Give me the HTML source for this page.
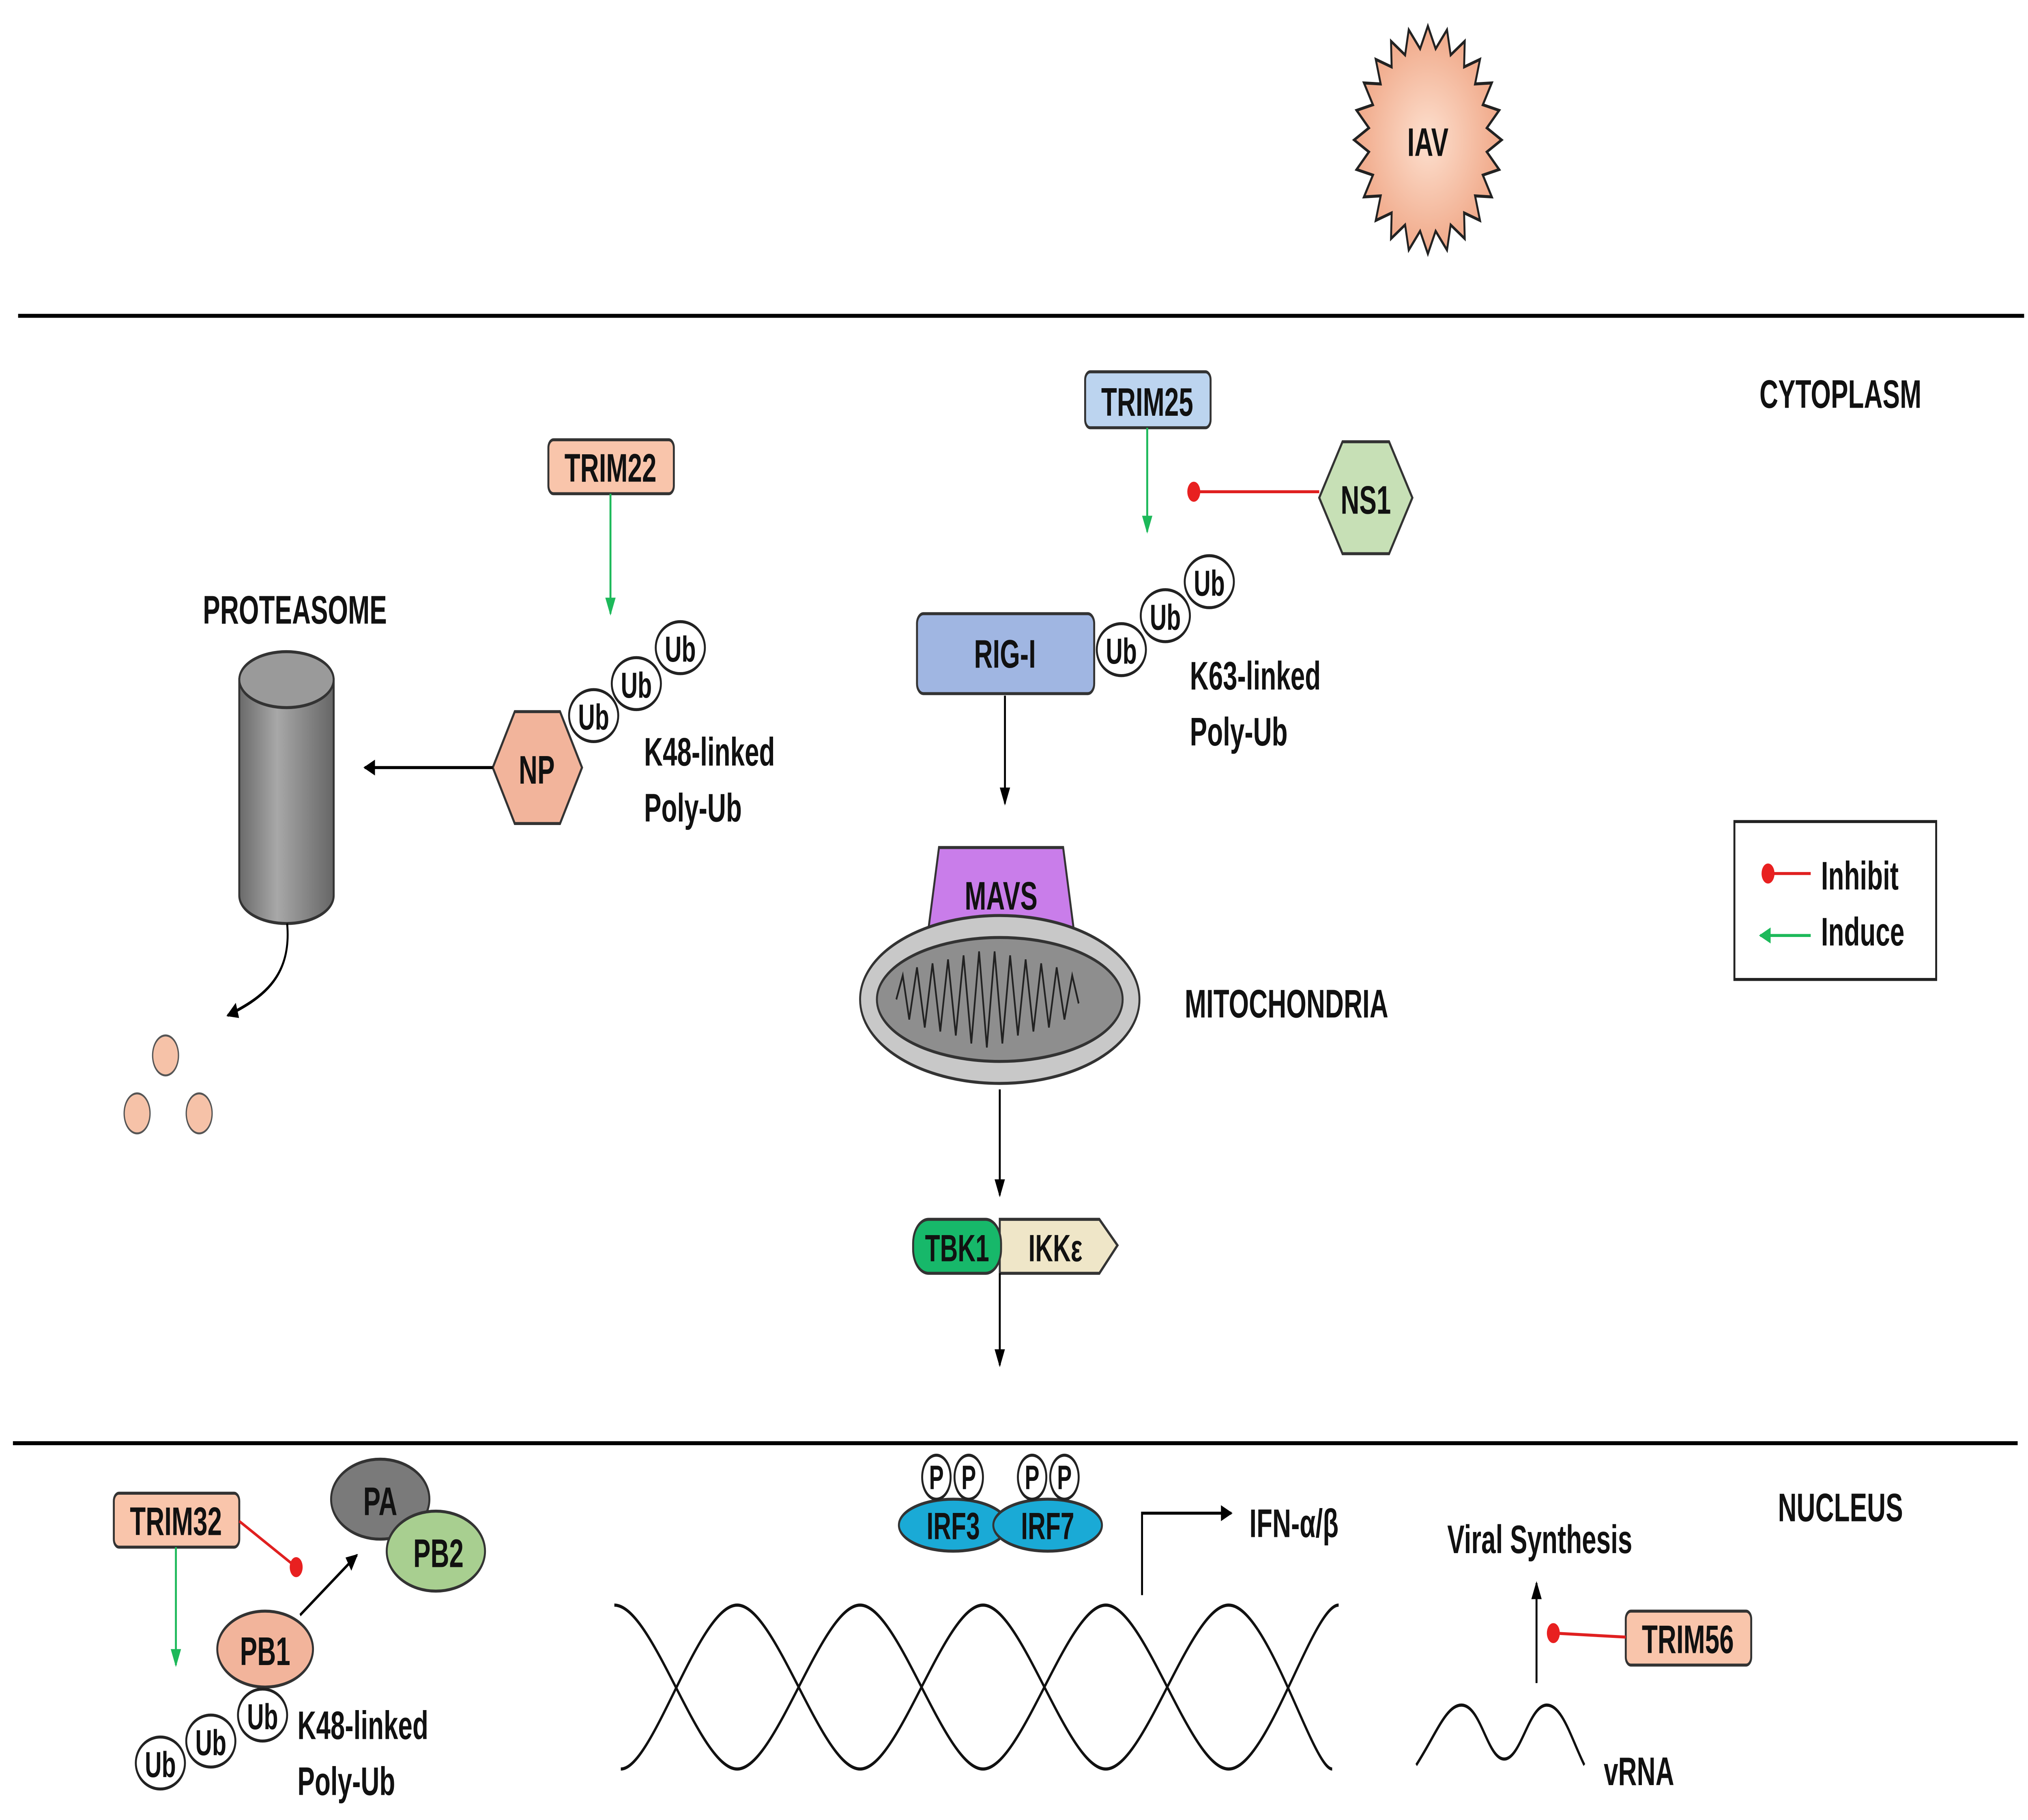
<!DOCTYPE html>
<html><head><meta charset="utf-8"><style>
html,body{margin:0;padding:0;background:#fff;width:7727px;height:4487px;overflow:hidden}
svg{display:block;width:100vw;height:100vh}
text{font-family:"Liberation Sans",Arial,sans-serif;font-weight:bold;fill:#111}
</style></head><body>
<svg viewBox="0 0 1568 910.5" preserveAspectRatio="none" xmlns="http://www.w3.org/2000/svg">
<defs>
<marker id="ab" markerWidth="10" markerHeight="10" refX="8" refY="5" orient="auto" markerUnits="userSpaceOnUse"><path d="M0,1 L9,5 L0,9 z" fill="#000"/></marker>
<marker id="ag" markerWidth="10" markerHeight="10" refX="8" refY="5" orient="auto" markerUnits="userSpaceOnUse"><path d="M0,1 L9,5 L0,9 z" fill="#1db95a"/></marker>
<radialGradient id="iav" cx="50%" cy="50%" r="50%"><stop offset="0" stop-color="#fde0cf"/><stop offset="1" stop-color="#f0a888"/></radialGradient>
<linearGradient id="cyl" x1="0" x2="1"><stop offset="0" stop-color="#6a6a6a"/><stop offset="0.4" stop-color="#a8a8a8"/><stop offset="1" stop-color="#666"/></linearGradient>
</defs>
<rect width="1568" height="910.5" fill="#fff"/>
<!-- IAV -->
<circle cx="1104" cy="70" r="47" fill="url(#iav)"/>
<polygon id="star" fill="url(#iav)" stroke="#222" stroke-width="1.5" points=""/>
<script>
(function(){var p=[],n=24,cx=1104,cy=70;for(var i=0;i<2*n;i++){var r=i%2?46:57;var a=Math.PI*i/n;p.push((cx+r*Math.cos(a)).toFixed(1)+","+(cy+r*Math.sin(a)).toFixed(1));}document.getElementById("star").setAttribute("points",p.join(" "));})();
</script>
<text x="1104" y="78" font-size="20" text-anchor="middle">IAV</text>
<!-- membranes -->
<line x1="14" y1="158" x2="1565" y2="158" stroke="#000" stroke-width="2"/>
<line x1="10" y1="722" x2="1560" y2="722" stroke="#000" stroke-width="2"/>
<text x="1423" y="204" font-size="20" text-anchor="middle">CYTOPLASM</text>
<text x="1423" y="761" font-size="20" text-anchor="middle">NUCLEUS</text>
<!-- TRIM25 -->
<rect x="839" y="186" width="97" height="28" rx="4" fill="#bcd4ef" stroke="#333" stroke-width="1.5"/>
<text x="887" y="208" font-size="20" text-anchor="middle">TRIM25</text>
<line x1="887" y1="214" x2="887" y2="266" stroke="#1db95a" stroke-width="1.5" marker-end="url(#ag)"/>
<polygon points="1038,221 1074,221 1092,249 1074,277 1038,277 1020,249" fill="#c7e0b6" stroke="#333" stroke-width="1.5"/>
<text x="1056" y="257" font-size="20" text-anchor="middle">NS1</text>
<line x1="1020" y1="246" x2="923" y2="246" stroke="#e02020" stroke-width="1.5"/>
<circle cx="923" cy="246" r="5" fill="#e82020"/>
<g fill="#fff" stroke="#222" stroke-width="1.5">
<ellipse cx="935" cy="291" rx="19" ry="13"/><ellipse cx="901" cy="308" rx="19" ry="13"/><ellipse cx="867" cy="325" rx="19" ry="13"/></g>
<g font-size="18" text-anchor="middle"><text x="935" y="298">Ub</text><text x="901" y="315">Ub</text><text x="867" y="332">Ub</text></g>
<rect x="709" y="307" width="137" height="40" rx="5" fill="#a0b6e2" stroke="#333" stroke-width="1.5"/>
<text x="777" y="334" font-size="20" text-anchor="middle">RIG-I</text>
<text x="920" y="345" font-size="20">K63-linked</text>
<text x="920" y="373" font-size="20">Poly-Ub</text>
<line x1="777" y1="348" x2="777" y2="402" stroke="#000" stroke-width="1.5" marker-end="url(#ab)"/>
<!-- MAVS / mito -->
<polygon points="726,424 822,424 830,464 718,464" fill="#c97dea" stroke="#333" stroke-width="1.5"/>
<text x="774" y="455" font-size="20" text-anchor="middle">MAVS</text>
<ellipse cx="773" cy="500" rx="108" ry="42" fill="#c8c8c8" stroke="#333" stroke-width="1.5"/>
<ellipse cx="773" cy="500" rx="95" ry="31" fill="#8e8e8e" stroke="#333" stroke-width="1.5"/>
<path d="M693,500 l5,-12 l5,22 l6,-26 l6,30 l6,-32 l6,34 l6,-36 l6,38 l6,-40 l6,44 l6,-46 l6,48 l6,-48 l6,46 l6,-44 l6,40 l6,-38 l6,36 l6,-34 l6,32 l6,-30 l6,26 l6,-22 l5,14" fill="none" stroke="#222" stroke-width="1.3"/>
<text x="916" y="509" font-size="20">MITOCHONDRIA</text>
<line x1="773" y1="545" x2="773" y2="598" stroke="#000" stroke-width="1.5" marker-end="url(#ab)"/>
<polygon points="773,610 850,610 864,623 850,637 773,637" fill="#efe6c8" stroke="#333" stroke-width="1.5"/>
<text x="816" y="631" font-size="19" text-anchor="middle">IKKε</text>
<rect x="706" y="610" width="68" height="27" rx="12" fill="#17b86a" stroke="#333" stroke-width="1.5"/>
<text x="740" y="631" font-size="19" text-anchor="middle">TBK1</text>
<line x1="773" y1="637" x2="773" y2="683" stroke="#000" stroke-width="1.5" marker-end="url(#ab)"/>
<!-- legend -->
<rect x="1341" y="411" width="156" height="79" fill="#fff" stroke="#222" stroke-width="1.5"/>
<line x1="1367" y1="437" x2="1400" y2="437" stroke="#e02020" stroke-width="1.5"/>
<circle cx="1367" cy="437" r="5" fill="#e82020"/>
<line x1="1400" y1="468" x2="1361" y2="468" stroke="#1db95a" stroke-width="1.5" marker-end="url(#ag)"/>
<text x="1408" y="445" font-size="20">Inhibit</text>
<text x="1408" y="473" font-size="20">Induce</text>
<!-- TRIM22 / NP -->
<rect x="424" y="220" width="97" height="27" rx="4" fill="#f9c5ab" stroke="#333" stroke-width="1.5"/>
<text x="472" y="241" font-size="20" text-anchor="middle">TRIM22</text>
<line x1="472" y1="247" x2="472" y2="307" stroke="#1db95a" stroke-width="1.5" marker-end="url(#ag)"/>
<g fill="#fff" stroke="#222" stroke-width="1.5">
<ellipse cx="526" cy="324" rx="19" ry="13"/><ellipse cx="492" cy="342" rx="19" ry="13"/><ellipse cx="459" cy="358" rx="19" ry="13"/></g>
<g font-size="18" text-anchor="middle"><text x="526" y="331">Ub</text><text x="492" y="349">Ub</text><text x="459" y="365">Ub</text></g>
<polygon points="398,356 433,356 450,384 433,412 398,412 381,384" fill="#f2b49b" stroke="#333" stroke-width="1.5"/>
<text x="415" y="392" font-size="20" text-anchor="middle">NP</text>
<text x="498" y="383" font-size="20">K48-linked</text>
<text x="498" y="411" font-size="20">Poly-Ub</text>
<line x1="381" y1="384" x2="282" y2="384" stroke="#000" stroke-width="1.5" marker-end="url(#ab)"/>
<text x="228" y="312" font-size="20" text-anchor="middle">PROTEASOME</text>
<path d="M185,340 L185,448 A36.5,14 0 0 0 258,448 L258,340 Z" fill="url(#cyl)" stroke="#333" stroke-width="1.5"/>
<ellipse cx="221.5" cy="340" rx="36.5" ry="14" fill="#9a9a9a" stroke="#333" stroke-width="1.5"/>
<path d="M222,462 C226,490 200,500 176,508" fill="none" stroke="#000" stroke-width="1.5" marker-end="url(#ab)"/>
<g fill="#f6c2a8" stroke="#555" stroke-width="1"><circle cx="128" cy="528" r="10"/><circle cx="106" cy="557" r="10"/><circle cx="154" cy="557" r="10"/></g>
<!-- TRIM32 -->
<rect x="88" y="747" width="97" height="27" rx="4" fill="#f9c5ab" stroke="#333" stroke-width="1.5"/>
<text x="136" y="768" font-size="20" text-anchor="middle">TRIM32</text>
<line x1="185" y1="761" x2="229" y2="784" stroke="#e02020" stroke-width="1.5"/>
<circle cx="229" cy="784" r="5" fill="#e82020"/>
<line x1="136" y1="774" x2="136" y2="833" stroke="#1db95a" stroke-width="1.5" marker-end="url(#ag)"/>
<ellipse cx="294" cy="750" rx="38" ry="20" fill="#7a7a7a" stroke="#333" stroke-width="1.5"/>
<ellipse cx="337" cy="776" rx="38" ry="20" fill="#a8cf90" stroke="#333" stroke-width="1.5"/>
<text x="294" y="758" font-size="20" text-anchor="middle">PA</text>
<text x="339" y="784" font-size="20" text-anchor="middle">PB2</text>
<ellipse cx="205" cy="825" rx="37" ry="19" fill="#f2b49b" stroke="#333" stroke-width="1.5"/>
<text x="205" y="833" font-size="20" text-anchor="middle">PB1</text>
<line x1="232" y1="808" x2="276" y2="778" stroke="#000" stroke-width="1.5" marker-end="url(#ab)"/>
<g fill="#fff" stroke="#222" stroke-width="1.5">
<ellipse cx="203" cy="858" rx="19" ry="13"/><ellipse cx="163" cy="871" rx="19" ry="13"/><ellipse cx="124" cy="882" rx="19" ry="13"/></g>
<g font-size="18" text-anchor="middle"><text x="203" y="865">Ub</text><text x="163" y="878">Ub</text><text x="124" y="889">Ub</text></g>
<text x="230" y="870" font-size="20">K48-linked</text>
<text x="230" y="898" font-size="20">Poly-Ub</text>
<!-- IRF -->
<ellipse cx="737" cy="763" rx="42" ry="13" fill="#1aaad6" stroke="#333" stroke-width="1.5"/>
<ellipse cx="810" cy="763" rx="42" ry="13" fill="#1aaad6" stroke="#333" stroke-width="1.5"/>
<text x="737" y="770" font-size="19" text-anchor="middle">IRF3</text>
<text x="810" y="770" font-size="19" text-anchor="middle">IRF7</text>
<g fill="#fff" stroke="#222" stroke-width="1.5"><circle cx="724" cy="739" r="11"/><circle cx="749" cy="739" r="11"/><circle cx="798" cy="739" r="11"/><circle cx="823" cy="739" r="11"/></g>
<g font-size="17" text-anchor="middle"><text x="724" y="745">P</text><text x="749" y="745">P</text><text x="798" y="745">P</text><text x="823" y="745">P</text></g>
<!-- DNA -->
<path fill="none" stroke="#111" stroke-width="1.6" d="M475,803 C505,803 540,885 570,885 C600,885 635,803 665,803 C695,803 730,885 760,885 C790,885 825,803 855,803 C885,803 920,885 950,885 C980,885 1015,803 1035,803"/>
<path fill="none" stroke="#111" stroke-width="1.6" d="M480,885 C505,885 540,803 570,803 C600,803 635,885 665,885 C695,885 730,803 760,803 C790,803 825,885 855,885 C885,885 920,803 950,803 C980,803 1015,885 1030,885"/>
<polyline points="883,798 883,757 952,757" fill="none" stroke="#000" stroke-width="1.5" marker-end="url(#ab)"/>
<text x="966" y="769" font-size="20">IFN-α/β</text>
<!-- viral -->
<text x="1119" y="777" font-size="20">Viral Synthesis</text>
<line x1="1188" y1="842" x2="1188" y2="792" stroke="#000" stroke-width="1.5" marker-end="url(#ab)"/>
<rect x="1257" y="806" width="97" height="27" rx="4" fill="#f9c5ab" stroke="#333" stroke-width="1.5"/>
<text x="1305" y="827" font-size="20" text-anchor="middle">TRIM56</text>
<line x1="1257" y1="819" x2="1201" y2="817" stroke="#e02020" stroke-width="1.5"/>
<circle cx="1201" cy="817" r="5" fill="#e82020"/>
<path d="M1095,883 C1110,868 1118,853 1130,853 C1145,853 1150,880 1163,880 C1176,880 1182,853 1196,853 C1208,853 1215,870 1225,883" fill="none" stroke="#111" stroke-width="1.6"/>
<text x="1240" y="893" font-size="20">vRNA</text>
</svg>
</body></html>
